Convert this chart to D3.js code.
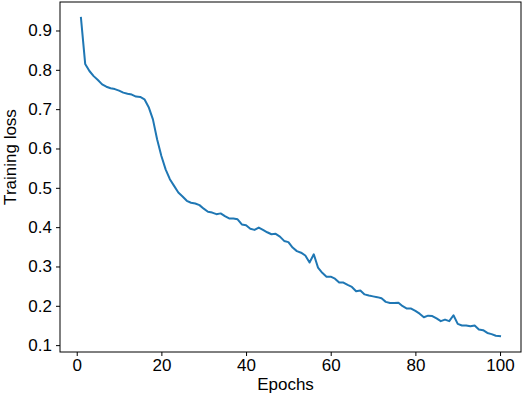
<!DOCTYPE html>
<html>
<head>
<meta charset="utf-8">
<script src="https://cdn.jsdelivr.net/npm/d3@7"></script>
<style>
  html, body { margin: 0; padding: 0; background: #fff; }
  svg { display: block; font-family: "Liberation Sans", Arial, Helvetica, sans-serif; }
</style>
</head>
<body>
<svg id="chart" width="532" height="398"></svg>
<script>
const epochs = d3.range(1, 101);
const trainingLoss = [
  0.932, 0.815, 0.797, 0.784, 0.774, 0.763, 0.757, 0.753, 0.751, 0.747,
  0.742, 0.739, 0.737, 0.732, 0.731, 0.725, 0.705, 0.674, 0.623, 0.581,
  0.547, 0.522, 0.505, 0.488, 0.478, 0.467, 0.462, 0.460, 0.456, 0.447,
  0.439, 0.437, 0.433, 0.435, 0.428, 0.422, 0.422, 0.420, 0.407, 0.405,
  0.396, 0.393, 0.399, 0.393, 0.387, 0.382, 0.383, 0.376, 0.365, 0.362,
  0.348, 0.339, 0.335, 0.328, 0.310, 0.331, 0.297, 0.284, 0.274, 0.274,
  0.269, 0.259, 0.259, 0.253, 0.248, 0.237, 0.239, 0.229, 0.226, 0.224,
  0.222, 0.219, 0.210, 0.207, 0.207, 0.208, 0.199, 0.193, 0.193, 0.187,
  0.180, 0.171, 0.175, 0.174, 0.168, 0.161, 0.165, 0.161, 0.176, 0.154,
  0.150, 0.150, 0.148, 0.150, 0.140, 0.138, 0.131, 0.128, 0.124, 0.123
];
const xTicks = [0, 20, 40, 60, 80, 100];
const yTicks = [0.1, 0.2, 0.3, 0.4, 0.5, 0.6, 0.7, 0.8, 0.9];
const xLabel = "Epochs";
const yLabel = "Training loss";

const svg = d3.select("#chart");
const mLeft = 60, mRight = 521, mTop = 2, mBottom = 352;

const xMin = d3.min(epochs), xMax = d3.max(epochs);
const xPad = (xMax - xMin) * 0.05;
const yMin = d3.min(trainingLoss), yMax = d3.max(trainingLoss);
const yPad = (yMax - yMin) * 0.05;

const x = d3.scaleLinear().domain([xMin - xPad, xMax + xPad]).range([mLeft, mRight]);
const y = d3.scaleLinear().domain([yMin - yPad, yMax + yPad]).range([mBottom, mTop]);

// line
const line = d3.line().x((d, i) => x(epochs[i])).y(d => y(d));
svg.append("path")
  .datum(trainingLoss)
  .attr("fill", "none")
  .attr("stroke", "#1f77b4")
  .attr("stroke-width", 2)
  .attr("stroke-linejoin", "round")
  .attr("stroke-linecap", "square")
  .attr("d", line);

// axes
const xAxis = d3.axisBottom(x).tickValues(xTicks).tickSize(4).tickPadding(3).tickFormat(d3.format("d"));
const yAxis = d3.axisLeft(y).tickValues(yTicks).tickSize(4).tickPadding(4).tickFormat(d3.format(".1f"));

const gx = svg.append("g").attr("transform", `translate(0,${mBottom})`).call(xAxis);
const gy = svg.append("g").attr("transform", `translate(${mLeft},0)`).call(yAxis);
[gx, gy].forEach(g => {
  g.select(".domain").remove();
  g.selectAll(".tick line").attr("stroke", "#000").attr("stroke-width", 1);
  g.selectAll(".tick text").attr("fill", "#000").style("font-size", "17px")
    .style("font-family", "'Liberation Sans', Arial, Helvetica, sans-serif");
});

// frame
svg.append("rect")
  .attr("x", mLeft).attr("y", mTop)
  .attr("width", mRight - mLeft).attr("height", mBottom - mTop)
  .attr("fill", "none").attr("stroke", "#000").attr("stroke-width", 1);

// labels
svg.append("text")
  .attr("x", (mLeft + mRight) / 2 - 5).attr("y", 390)
  .attr("text-anchor", "middle")
  .style("font-size", "17px")
  .text(xLabel);

svg.append("text")
  .attr("transform", `translate(16,${(mTop + mBottom) / 2 - 20}) rotate(-90)`)
  .attr("text-anchor", "middle")
  .style("font-size", "17px")
  .text(yLabel);
</script>
</body>
</html>
